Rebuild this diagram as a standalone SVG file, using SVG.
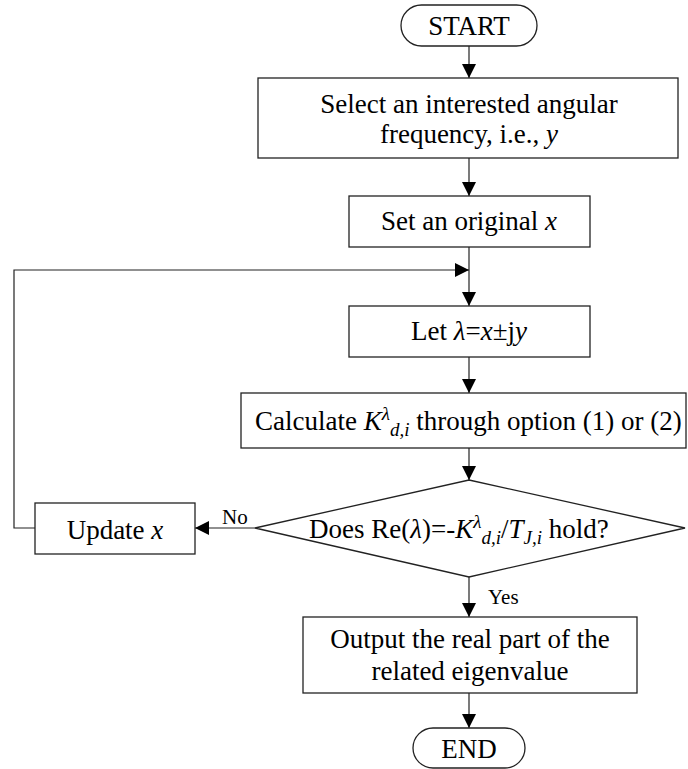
<svg xmlns="http://www.w3.org/2000/svg" width="688" height="769" viewBox="0 0 688 769">
<style>
.shape{fill:#fff;stroke:#222;stroke-width:1.3}
.con{fill:none;stroke:#222;stroke-width:1.2}
text{font-family:"Liberation Serif","Times New Roman",serif;font-size:27px;fill:#000}
.c{text-anchor:middle}
.lbl{font-size:21px}
.i{font-style:italic}
.s{font-size:19px}
</style>
<defs>
<marker id="ah" markerUnits="userSpaceOnUse" markerWidth="15" markerHeight="15" refX="14" refY="7" orient="auto">
<path d="M0,0 L14,7 L0,14 Z" fill="#000"/>
</marker>
</defs>
<g id="connectors">
<line class="con" x1="469" y1="46" x2="469" y2="78" marker-end="url(#ah)"/>
<line class="con" x1="469" y1="158" x2="469" y2="196" marker-end="url(#ah)"/>
<line class="con" x1="469" y1="247" x2="469" y2="306" marker-end="url(#ah)"/>
<polyline class="con" points="35,528 14,528 14,270 469,270" marker-end="url(#ah)"/>
<line class="con" x1="469" y1="357" x2="469" y2="393" marker-end="url(#ah)"/>
<line class="con" x1="469" y1="448" x2="469" y2="480" marker-end="url(#ah)"/>
<line class="con" x1="255" y1="528" x2="195" y2="528" marker-end="url(#ah)"/>
<text class="lbl" x="222" y="524">No</text>
<line class="con" x1="469" y1="577" x2="469" y2="617" marker-end="url(#ah)"/>
<text class="lbl" x="488" y="604">Yes</text>
<line class="con" x1="469" y1="693" x2="469" y2="728" marker-end="url(#ah)"/>
</g>
<g id="start">
<rect class="shape" x="401" y="5" width="136" height="41" rx="20.5"/>
<text class="c" x="469" y="35">START</text>
</g>
<g id="select">
<rect class="shape" x="258" y="78" width="420" height="80"/>
<text class="c" x="469" y="113">Select an interested angular</text>
<text class="c" x="469" y="143">frequency, i.e., <tspan class="i">y</tspan></text>
</g>
<g id="set">
<rect class="shape" x="349" y="196" width="241" height="51"/>
<text class="c" x="469" y="230">Set an original <tspan class="i">x</tspan></text>
</g>
<g id="let">
<rect class="shape" x="349" y="306" width="241" height="51"/>
<text class="c" x="469" y="340">Let <tspan class="i">λ</tspan>=<tspan class="i">x</tspan>±j<tspan class="i">y</tspan></text>
</g>
<g id="calculate">
<rect class="shape" x="241" y="393" width="445" height="55"/>
<text x="255" y="430">Calculate <tspan class="i">K</tspan><tspan class="i s" dy="-10">λ</tspan><tspan class="i s" dy="16">d,i</tspan><tspan dy="-6"> through option (1) or (2)</tspan></text>
</g>
<g id="decision">
<polygon class="shape" points="469,480 685,528 469,577 255,528"/>
<text x="309" y="538">Does Re(<tspan class="i">λ</tspan>)=-<tspan class="i">K</tspan><tspan class="i s" dy="-10">λ</tspan><tspan class="i s" dy="16">d,i</tspan><tspan dy="-6">/</tspan><tspan class="i">T</tspan><tspan class="i s" dy="6">J,i</tspan><tspan dy="-6"> hold?</tspan></text>
</g>
<g id="update">
<rect class="shape" x="35" y="503" width="160" height="51"/>
<text class="c" x="115" y="539">Update <tspan class="i">x</tspan></text>
</g>
<g id="output">
<rect class="shape" x="303" y="617" width="334" height="76"/>
<text class="c" x="470" y="648">Output the real part of the</text>
<text class="c" x="470" y="680">related eigenvalue</text>
</g>
<g id="end">
<rect class="shape" x="413" y="728" width="112" height="40" rx="20"/>
<text class="c" x="469" y="758">END</text>
</g>
</svg>
